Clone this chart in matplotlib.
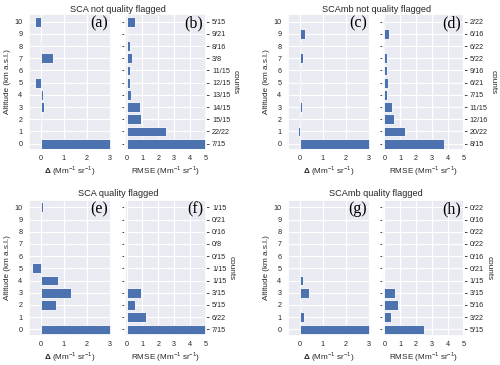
import numpy as np
import matplotlib
matplotlib.use("Agg")
import matplotlib.pyplot as plt
import seaborn as sns

sns.set_theme(style="darkgrid")
plt.rcParams['font.family'] = ['Liberation Sans', 'DejaVu Sans']
plt.rcParams['mathtext.fontset'] = 'custom'
plt.rcParams['mathtext.rm'] = 'Liberation Sans'
plt.rcParams['mathtext.bf'] = 'Liberation Sans:bold'

altitudes = np.arange(0, 11)

# values listed from altitude 0 to 10
sca_nq_delta = [3.5, 0.01, 0.06, 0.16, 0.09, -0.23, 0.01, 0.52, -0.05, 0.0, -0.26]
sca_nq_rmse = [5.6, 2.5, 0.92, 0.83, 0.29, 0.23, 0.19, 0.35, 0.23, 0.12, 0.52]
sca_nq_counts = ["7/15", "22/22", "15/15", "14/15", "13/15", "12/15", "11/15", "3/8", "8/16", "9/21", "5/15"]

scamb_nq_delta = [3.5, -0.06, 0.04, 0.10, 0.0, 0.04, 0.07, 0.12, 0.07, 0.24, 0.0]
scamb_nq_rmse = [3.77, 1.3, 0.59, 0.46, 0.15, 0.21, 0.15, 0.15, 0.06, 0.27, 0.06]
scamb_nq_counts = ["8/15", "20/22", "12/16", "11/15", "7/15", "6/21", "9/16", "5/22", "6/22", "6/16", "2/22"]

sca_q_delta = [3.5, 0.0, 0.67, 1.32, 0.73, -0.38, 0.0, 0.0, 0.0, 0.0, 0.09]
sca_q_rmse = [5.6, 1.23, 0.52, 0.90, 0.0, 0.0, 0.0, 0.0, 0.0, 0.0, 0.0]
sca_q_counts = ["7/15", "6/22", "5/15", "3/15", "1/15", "1/15", "0/15", "0/8", "0/16", "0/21", "1/15"]

scamb_q_delta = [3.5, 0.18, 0.04, 0.41, 0.13, 0.0, 0.0, 0.0, 0.0, 0.0, 0.0]
scamb_q_rmse = [2.53, 0.44, 0.84, 0.67, 0.0, 0.0, 0.0, 0.0, 0.0, 0.0, 0.0]
scamb_q_counts = ["5/15", "3/22", "5/16", "3/15", "1/15", "0/21", "0/16", "0/22", "0/22", "0/16", "0/22"]

titles = ["SCA not quality flagged", "SCAmb not quality flagged",
          "SCA quality flagged", "SCAmb quality flagged"]
letters = [("(a)", "(b)"), ("(c)", "(d)"), ("(e)", "(f)"), ("(g)", "(h)")]
groups = [(sca_nq_delta, sca_nq_rmse, sca_nq_counts),
          (scamb_nq_delta, scamb_nq_rmse, scamb_nq_counts),
          (sca_q_delta, sca_q_rmse, sca_q_counts),
          (scamb_q_delta, scamb_q_rmse, scamb_q_counts)]

W, H = 500, 365
fig = plt.figure(figsize=(5, 3.65), dpi=100)

col_left = [29.3, 288.3]
col_left2 = [125.0, 382.7]
row_top = [14.3, 200.0]
ax_w = 81.4
ax_h = 135.5
title_y = [9.0, 194.0]

color = "#4C72B0"
tick_fs = 5.2
lab_fs = 5.9
txtcol = "#262626"

for i, (d, r, c) in enumerate(groups):
    row, col = divmod(i, 2)
    top = row_top[row]
    ax1 = fig.add_axes([col_left[col] / W, 1 - (top + ax_h) / H, ax_w / W, ax_h / H])
    ax2 = fig.add_axes([col_left2[col] / W, 1 - (top + ax_h) / H, ax_w / W, ax_h / H])

    ax1.barh(altitudes, d, height=0.8, color=color, edgecolor="white", linewidth=0.6, zorder=2)
    ax1.set_xlim(-0.5, 3.05)
    ax1.set_ylim(-0.5, 10.6)
    ax1.set_xticks([0, 1, 2, 3])
    ax1.set_yticks(altitudes)
    ax1.tick_params(axis="x", labelsize=tick_fs, colors=txtcol, length=0, pad=4)
    ax1.tick_params(axis="y", labelsize=tick_fs, colors=txtcol, length=0, pad=5)
    ax1.set_ylabel("Altitude (km a.s.l.)", fontsize=lab_fs, color=txtcol, labelpad=2)
    ax1.set_xlabel(r"$\mathbf{\Delta}$ (Mm$^{-1}$ sr$^{-1}$)", fontsize=lab_fs, color=txtcol, labelpad=1.5)
    ax1.grid(True, color="white", linewidth=0.8)
    ax1.text(0.967, 0.93, letters[i][0], transform=ax1.transAxes, ha="right", va="center",
             fontsize=11.5, family="Liberation Serif", color="black")

    ax2.barh(altitudes, r, height=0.8, color=color, edgecolor="white", linewidth=0.6, zorder=2)
    ax2.set_xlim(-0.1, 5.05)
    ax2.set_ylim(-0.5, 10.6)
    ax2.set_xticks([0, 1, 2, 3, 4, 5])
    ax2.set_yticks(altitudes)
    ax2.set_yticklabels(c)
    ax2.tick_params(axis="x", labelsize=tick_fs, colors=txtcol, length=0, pad=4)
    ax2.tick_params(axis="y", labelsize=tick_fs, colors=txtcol, left=True, right=True,
                    labelleft=False, labelright=True, length=2.5, width=0.6, pad=1.5, direction="out")
    ax2.set_xlabel(r"RMSE (Mm$^{-1}$ sr$^{-1}$)", fontsize=lab_fs, color=txtcol, labelpad=1.5)
    ax2.yaxis.set_label_position("right")
    ax2.set_ylabel("counts", fontsize=lab_fs, color=txtcol, rotation=270, labelpad=6)
    ax2.grid(True, color="white", linewidth=0.8)
    ax2.text(0.96, 0.93, letters[i][1], transform=ax2.transAxes, ha="right", va="center",
             fontsize=11.5, family="Liberation Serif", color="black")

    cx = (col_left[col] + col_left2[col] + ax_w) / 2
    fig.text(cx / W, 1 - title_y[row] / H, titles[i], ha="center", va="center",
             fontsize=6.6, color=txtcol)

fig.savefig("out.png", dpi=100)
